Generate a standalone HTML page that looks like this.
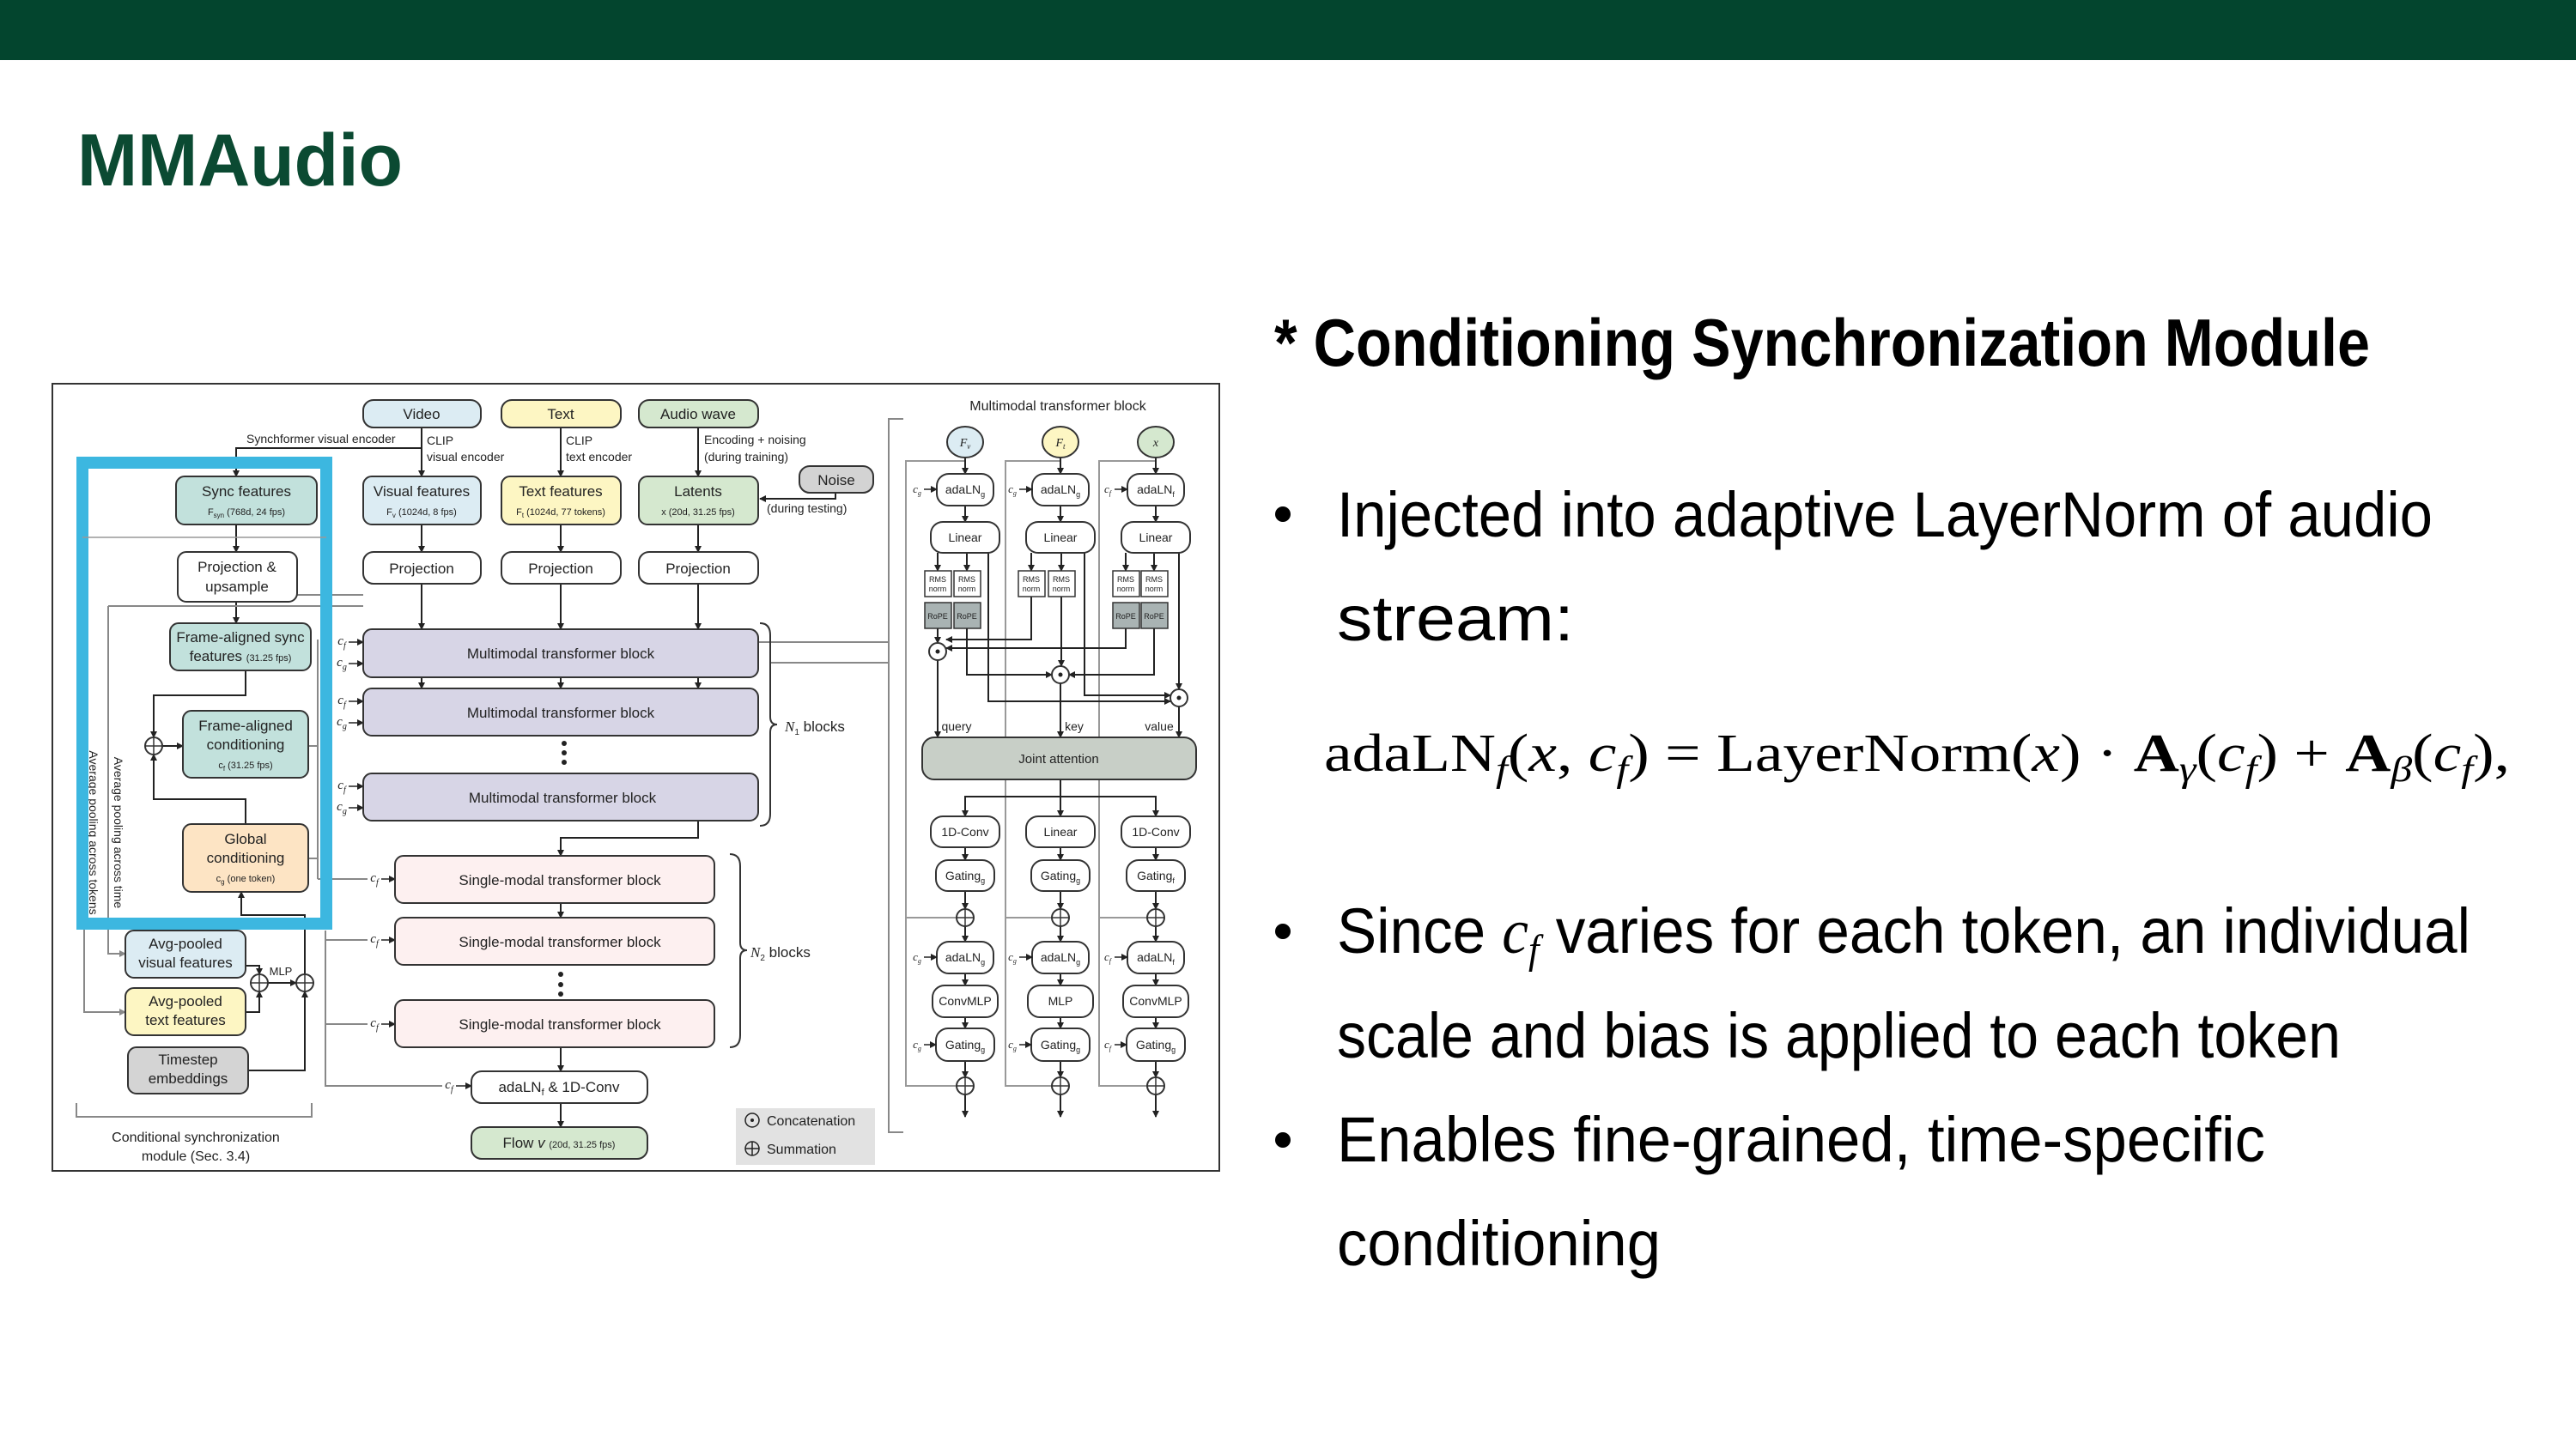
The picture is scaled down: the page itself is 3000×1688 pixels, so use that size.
<!DOCTYPE html>
<html><head><meta charset="utf-8"><style>
html,body{margin:0;padding:0;background:#fff;}
svg{display:block;}
.d{font-family:"Liberation Sans Narrow","Liberation Sans",sans-serif;fill:#222;}
.r{font-family:"Liberation Sans",sans-serif;}
</style></head><body>
<svg width="3000" height="1688" viewBox="0 0 3000 1688" xmlns="http://www.w3.org/2000/svg">
<defs>
<marker id="a" markerWidth="8" markerHeight="8" refX="7" refY="4" orient="auto" markerUnits="userSpaceOnUse"><path d="M0,0 L8,4 L0,8 z" fill="#222"/></marker>
<marker id="ag" markerWidth="8" markerHeight="8" refX="7" refY="4" orient="auto" markerUnits="userSpaceOnUse"><path d="M0,0 L8,4 L0,8 z" fill="#888"/></marker>
</defs>
<rect x="0" y="0" width="3000" height="70" fill="#03452e"/>
<text x="90" y="216" class="r" font-size="86" font-weight="bold" fill="#0b4a32" textLength="379" lengthAdjust="spacingAndGlyphs">MMAudio</text>

<!-- right text -->
<g class="r" fill="#000">
<text x="1484" y="426" font-size="78" font-weight="bold" textLength="1276" lengthAdjust="spacingAndGlyphs">* Conditioning Synchronization Module</text>
<circle cx="1494" cy="599" r="9"/>
<text x="1557" y="625" font-size="74" textLength="1276" lengthAdjust="spacingAndGlyphs">Injected into adaptive LayerNorm of audio</text>
<text x="1557" y="746" font-size="74" textLength="276" lengthAdjust="spacingAndGlyphs">stream:</text>
<text x="1542" y="898" font-size="62" font-family="Liberation Serif,serif" textLength="1381" lengthAdjust="spacingAndGlyphs">adaLN<tspan font-size="42" dy="12" font-style="italic">f</tspan><tspan dy="-12">(</tspan><tspan font-style="italic">x</tspan>, <tspan font-style="italic">c</tspan><tspan font-size="42" dy="12" font-style="italic">f</tspan><tspan dy="-12">) = LayerNorm(</tspan><tspan font-style="italic">x</tspan>) · <tspan font-weight="bold">A</tspan><tspan font-size="42" dy="12" font-style="italic">γ</tspan><tspan dy="-12">(</tspan><tspan font-style="italic">c</tspan><tspan font-size="42" dy="12" font-style="italic">f</tspan><tspan dy="-12">) + </tspan><tspan font-weight="bold">A</tspan><tspan font-size="42" dy="12" font-style="italic">β</tspan><tspan dy="-12">(</tspan><tspan font-style="italic">c</tspan><tspan font-size="42" dy="12" font-style="italic">f</tspan><tspan dy="-12">),</tspan></text>
<circle cx="1494" cy="1085" r="9"/>
<text x="1557" y="1110" font-size="74" textLength="1320" lengthAdjust="spacingAndGlyphs">Since <tspan font-family="Liberation Serif,serif" font-style="italic">c</tspan><tspan font-family="Liberation Serif,serif" font-style="italic" font-size="48" dy="12">f</tspan><tspan dy="-12"> varies for each token, an individual</tspan></text>
<text x="1557" y="1232" font-size="74" textLength="1169" lengthAdjust="spacingAndGlyphs">scale and bias is applied to each token</text>
<circle cx="1494" cy="1328" r="9"/>
<text x="1557" y="1353" font-size="74" textLength="1081" lengthAdjust="spacingAndGlyphs">Enables fine-grained, time-specific</text>
<text x="1557" y="1474" font-size="74" textLength="377" lengthAdjust="spacingAndGlyphs">conditioning</text>
</g>

<!-- diagram -->
<rect x="61" y="447" width="1359" height="917" fill="none" stroke="#333" stroke-width="2"/>
<g class="d" font-size="17" text-anchor="middle" stroke-linecap="butt">
<!-- lines -->
<g stroke="#222" stroke-width="2" fill="none" marker-end="url(#a)">
<path d="M491 498 V555"/><path d="M653 498 V555"/><path d="M813 498 V555"/>
<path d="M491 522 H275 V555"/>
<path d="M973 574 V581 H885"/>
<path d="M491 611 V643"/><path d="M653 611 V643"/><path d="M813 611 V643"/>
<path d="M491 680 V733"/><path d="M653 680 V733"/><path d="M813 680 V733"/>
<path d="M275 611 V643"/><path d="M275 701 V726"/>
<path d="M491 789 V802"/><path d="M653 789 V802"/><path d="M813 789 V802"/>
<path d="M813 956 V976 H653 V997"/>
<path d="M653 1052 V1069"/><path d="M653 1220 V1248"/><path d="M653 1285 V1313"/>
<path d="M286 781 V810 H179 V859"/>
<path d="M286 960 V931 H179 V879"/>
<path d="M189 869 H213"/>
<path d="M286 1125 H302 V1135"/><path d="M286 1179 H302 V1155"/>
<path d="M312 1145 H345"/>
<path d="M289 1247 H355 V1155"/>
<path d="M355 1135 V1066 H281 V1039"/>
</g>
<g stroke="#888" stroke-width="2" fill="none">
<path d="M346 693 H423"/><path d="M126 706 H423"/>
<path d="M126 706 V1111 H146" marker-end="url(#ag)"/>
<path d="M98 1083 V1179 H146" marker-end="url(#ag)"/>
<path d="M370 745 V1024"/><path d="M359 869 H370"/><path d="M359 1000 H370"/>
<path d="M379 1084 V1265 H515"/><path d="M379 1095 H428"/><path d="M379 1193 H428"/><path d="M370 1024 H428"/>
<path d="M883 748 H1035"/><path d="M898 772 H1035"/>
<path d="M1052 488 H1035 V1319 H1052"/>
<path d="M89 1285 V1301 H363 V1285"/>
</g>
<!-- c labels MM -->
<g font-size="15" font-family="Liberation Serif,serif" font-style="italic">
<text x="398" y="751">c<tspan font-size="10" dy="4">f</tspan></text><text x="398" y="776">c<tspan font-size="10" dy="4">g</tspan></text>
<text x="398" y="820">c<tspan font-size="10" dy="4">f</tspan></text><text x="398" y="845">c<tspan font-size="10" dy="4">g</tspan></text>
<text x="398" y="919">c<tspan font-size="10" dy="4">f</tspan></text><text x="398" y="944">c<tspan font-size="10" dy="4">g</tspan></text>
<text x="436" y="1027">c<tspan font-size="10" dy="4">f</tspan></text><text x="436" y="1098">c<tspan font-size="10" dy="4">f</tspan></text><text x="436" y="1196">c<tspan font-size="10" dy="4">f</tspan></text>
<text x="523" y="1268">c<tspan font-size="10" dy="4">f</tspan></text>
</g>
<g stroke="#222" stroke-width="1.5" marker-end="url(#a)">
<path d="M406 748 H423"/><path d="M406 773 H423"/><path d="M406 817 H423"/><path d="M406 842 H423"/><path d="M406 916 H423"/><path d="M406 941 H423"/>
<path d="M444 1024 H460"/><path d="M444 1095 H460"/><path d="M444 1193 H460"/><path d="M531 1265 H549"/>
</g>

<!-- boxes -->
<g stroke="#333" stroke-width="2">
<rect x="423" y="466" width="137" height="32" rx="12" fill="#dcecf3"/>
<rect x="584" y="466" width="139" height="32" rx="12" fill="#fdf6c3"/>
<rect x="744" y="466" width="139" height="32" rx="12" fill="#d5e8cf"/>
<rect x="931" y="543" width="86" height="31" rx="12" fill="#d3d3d3"/>
<rect x="205" y="555" width="164" height="56" rx="10" fill="#c2e1dc"/>
<rect x="423" y="555" width="137" height="56" rx="10" fill="#dcecf3"/>
<rect x="584" y="555" width="139" height="56" rx="10" fill="#fdf6c3"/>
<rect x="744" y="555" width="139" height="56" rx="10" fill="#d5e8cf"/>
<rect x="207" y="643" width="139" height="58" rx="10" fill="#fff"/>
<rect x="423" y="643" width="137" height="37" rx="12" fill="#fff"/>
<rect x="584" y="643" width="139" height="37" rx="12" fill="#fff"/>
<rect x="744" y="643" width="139" height="37" rx="12" fill="#fff"/>
<rect x="198" y="726" width="164" height="55" rx="10" fill="#c2e1dc"/>
<rect x="213" y="828" width="146" height="78" rx="10" fill="#c2e1dc"/>
<rect x="213" y="960" width="146" height="79" rx="10" fill="#fde4c4"/>
<rect x="423" y="733" width="460" height="56" rx="10" fill="#d7d5e6"/>
<rect x="423" y="802" width="460" height="55" rx="10" fill="#d7d5e6"/>
<rect x="423" y="901" width="460" height="55" rx="10" fill="#d7d5e6"/>
<rect x="460" y="997" width="372" height="55" rx="10" fill="#fdf0f0"/>
<rect x="460" y="1069" width="372" height="55" rx="10" fill="#fdf0f0"/>
<rect x="460" y="1165" width="372" height="55" rx="10" fill="#fdf0f0"/>
<rect x="549" y="1248" width="205" height="37" rx="12" fill="#fff"/>
<rect x="549" y="1313" width="205" height="37" rx="12" fill="#d5e8cf"/>
<rect x="146" y="1084" width="140" height="55" rx="10" fill="#dcecf3"/>
<rect x="146" y="1151" width="140" height="55" rx="10" fill="#fdf6c3"/>
<rect x="149" y="1220" width="140" height="54" rx="10" fill="#d4d4d4"/>
<circle cx="179" cy="869" r="10" fill="#fff"/><circle cx="302" cy="1145" r="10" fill="#fff"/><circle cx="355" cy="1145" r="10" fill="#fff"/>
</g>
<g stroke="#333" stroke-width="1.5"><path d="M169 869 H189 M179 859 V879 M292 1145 H312 M302 1135 V1155 M345 1145 H365 M355 1135 V1155"/></g>
<!-- box text -->
<text x="491" y="488">Video</text><text x="653" y="488">Text</text><text x="813" y="488">Audio wave</text><text x="974" y="565">Noise</text>
<text x="287" y="578">Sync features</text><text x="287" y="600" font-size="11">F<tspan font-size="8" dy="3">syn</tspan><tspan dy="-3"> (768d, 24 fps)</tspan></text>
<text x="491" y="578">Visual features</text><text x="491" y="600" font-size="11">F<tspan font-size="8" dy="3">v</tspan><tspan dy="-3"> (1024d, 8 fps)</tspan></text>
<text x="653" y="578">Text features</text><text x="653" y="600" font-size="11">F<tspan font-size="8" dy="3">t</tspan><tspan dy="-3"> (1024d, 77 tokens)</tspan></text>
<text x="813" y="578">Latents</text><text x="813" y="600" font-size="11">x (20d, 31.25 fps)</text>
<text x="276" y="666">Projection &amp;</text><text x="276" y="689">upsample</text>
<text x="491" y="668">Projection</text><text x="653" y="668">Projection</text><text x="813" y="668">Projection</text>
<text x="280" y="748">Frame-aligned sync</text><text x="280" y="770">features <tspan font-size="11">(31.25 fps)</tspan></text>
<text x="286" y="851">Frame-aligned</text><text x="286" y="873">conditioning</text><text x="286" y="895" font-size="11">c<tspan font-size="8" dy="3">f</tspan><tspan dy="-3"> (31.25 fps)</tspan></text>
<text x="286" y="983">Global</text><text x="286" y="1005">conditioning</text><text x="286" y="1027" font-size="11">c<tspan font-size="8" dy="3">g</tspan><tspan dy="-3"> (one token)</tspan></text>
<text x="653" y="767">Multimodal transformer block</text><text x="653" y="836">Multimodal transformer block</text><text x="655" y="935">Multimodal transformer block</text>
<text x="652" y="1031">Single-modal transformer block</text><text x="652" y="1103">Single-modal transformer block</text><text x="652" y="1199">Single-modal transformer block</text>
<text x="651" y="1272">adaLN<tspan font-size="11" dy="4">f</tspan><tspan dy="-4"> &amp; 1D-Conv</tspan></text>
<text x="651" y="1337">Flow <tspan font-style="italic">v</tspan> <tspan font-size="11">(20d, 31.25 fps)</tspan></text>
<text x="216" y="1105">Avg-pooled</text><text x="216" y="1127">visual features</text>
<text x="216" y="1172">Avg-pooled</text><text x="216" y="1194">text features</text>
<text x="219" y="1240">Timestep</text><text x="219" y="1262">embeddings</text>
<g fill="#222"><circle cx="657" cy="866" r="3"/><circle cx="657" cy="877" r="3"/><circle cx="657" cy="888" r="3"/><circle cx="653" cy="1135" r="3"/><circle cx="653" cy="1147" r="3"/><circle cx="653" cy="1158" r="3"/></g>
<text x="327" y="1136" font-size="13">MLP</text>
<g font-size="14" text-anchor="start">
<text x="287" y="516">Synchformer visual encoder</text>
<text x="497" y="518">CLIP</text><text x="497" y="537">visual encoder</text>
<text x="659" y="518">CLIP</text><text x="659" y="537">text encoder</text>
<text x="820" y="517">Encoding + noising</text><text x="820" y="537">(during training)</text>
<text x="893" y="597">(during testing)</text>
<text x="914" y="852" font-size="17"><tspan font-family="Liberation Serif,serif" font-style="italic">N</tspan><tspan font-size="10" dy="4">1</tspan><tspan dy="-4"> blocks</tspan></text>
<text x="874" y="1115" font-size="17"><tspan font-family="Liberation Serif,serif" font-style="italic">N</tspan><tspan font-size="10" dy="4">2</tspan><tspan dy="-4"> blocks</tspan></text>
</g>
<g fill="none" stroke="#333" stroke-width="2">
<path d="M885 726 Q897 726 897 740 V835 Q897 844 905 844 Q897 844 897 853 V948 Q897 962 885 962"/>
<path d="M850 995 Q862 995 862 1009 V1098 Q862 1107 870 1107 Q862 1107 862 1116 V1206 Q862 1220 850 1220"/>
</g>
<text x="228" y="1330" font-size="16">Conditional synchronization</text><text x="228" y="1352" font-size="16">module (Sec. 3.4)</text>
<text transform="translate(133,970) rotate(90)" font-size="14">Average pooling across time</text>
<text transform="translate(104,970) rotate(90)" font-size="14">Average pooling across tokens</text>
<!-- legend -->
<rect x="857" y="1291" width="162" height="66" fill="#e2e2e2"/>
<circle cx="876" cy="1305" r="8" fill="none" stroke="#222" stroke-width="1.5"/><circle cx="876" cy="1305" r="2" fill="#222"/>
<circle cx="876" cy="1338" r="8" fill="none" stroke="#222" stroke-width="1.5"/><path d="M868 1338 H884 M876 1330 V1346" stroke="#222" stroke-width="1.5"/>
<text x="893" y="1311" font-size="16" text-anchor="start">Concatenation</text><text x="893" y="1344" font-size="16" text-anchor="start">Summation</text>

<!-- right panel -->
<text x="1232" y="478" font-size="16">Multimodal transformer block</text>
<g stroke="#999" stroke-width="2" fill="none">
<path d="M1124 537 H1055 V1265 H1114 M1055 1069 H1114"/>
<path d="M1235 537 H1171 V1265 H1225 M1171 1069 H1225"/>
<path d="M1346 537 H1280 V1265 H1336 M1280 1069 H1336"/>
</g>
<g stroke="#222" stroke-width="2" fill="none" marker-end="url(#a)">
<path d="M1124 533 V552"/><path d="M1235 533 V552"/><path d="M1346 533 V552"/>
<path d="M1124 589 V608"/><path d="M1235 589 V608"/><path d="M1346 589 V608"/>
<path d="M1092 644 V665"/><path d="M1126 644 V665"/><path d="M1201 644 V665"/><path d="M1236 644 V665"/><path d="M1311 644 V665"/><path d="M1344 644 V665"/>
<path d="M1092 732 V749"/>
<path d="M1201 695 V745 H1102"/>
<path d="M1311 732 V755 H1102"/>
<path d="M1126 732 V786 H1225"/>
<path d="M1236 695 V776"/>
<path d="M1344 732 V786 H1245"/>
<path d="M1151 644 V817 H1363"/>
<path d="M1263 644 V810 H1363"/>
<path d="M1373 644 V803"/>
<path d="M1092 769 V859"/><path d="M1235 796 V859"/><path d="M1373 823 V859"/>
<path d="M1235 908 V928 H1124 V951"/><path d="M1235 928 V951"/><path d="M1235 928 H1346 V951"/>
<path d="M1124 987 V1002"/><path d="M1235 987 V1002"/><path d="M1346 987 V1002"/>
<path d="M1124 1038 V1059"/><path d="M1235 1038 V1059"/><path d="M1346 1038 V1059"/>
<path d="M1124 1079 V1097"/><path d="M1235 1079 V1097"/><path d="M1346 1079 V1097"/>
<path d="M1124 1134 V1148"/><path d="M1235 1134 V1148"/><path d="M1346 1134 V1148"/>
<path d="M1124 1185 V1198"/><path d="M1235 1185 V1198"/><path d="M1346 1185 V1198"/>
<path d="M1124 1236 V1255"/><path d="M1235 1236 V1255"/><path d="M1346 1236 V1255"/>
<path d="M1124 1275 V1301"/><path d="M1235 1275 V1301"/><path d="M1346 1275 V1301"/>
</g>
<g stroke="#333" stroke-width="2">
<ellipse cx="1124" cy="515" rx="21" ry="18" fill="#dcecf3"/><ellipse cx="1235" cy="515" rx="21" ry="18" fill="#fdf6c3"/><ellipse cx="1346" cy="515" rx="21" ry="18" fill="#d5e8cf"/>
<rect x="1091" y="552" width="66" height="37" rx="14" fill="#fff"/><rect x="1202" y="552" width="66" height="37" rx="14" fill="#fff"/><rect x="1313" y="552" width="66" height="37" rx="14" fill="#fff"/>
<rect x="1084" y="608" width="80" height="36" rx="14" fill="#fff"/><rect x="1195" y="608" width="80" height="36" rx="14" fill="#fff"/><rect x="1306" y="608" width="80" height="36" rx="14" fill="#fff"/>
<g stroke-width="1.5" fill="#fff">
<rect x="1077" y="665" width="31" height="30"/><rect x="1111" y="665" width="31" height="30"/><rect x="1186" y="665" width="31" height="30"/><rect x="1221" y="665" width="31" height="30"/><rect x="1296" y="665" width="31" height="30"/><rect x="1329" y="665" width="31" height="30"/>
</g>
<g stroke-width="1.5" fill="#a9b3b3">
<rect x="1077" y="702" width="31" height="30"/><rect x="1111" y="702" width="31" height="30"/><rect x="1296" y="702" width="31" height="30"/><rect x="1329" y="702" width="31" height="30"/>
</g>
<circle cx="1092" cy="759" r="10" fill="#fff"/><circle cx="1235" cy="786" r="10" fill="#fff"/><circle cx="1373" cy="813" r="10" fill="#fff"/>
<rect x="1074" y="859" width="319" height="49" rx="14" fill="#c8cfc7"/>
<rect x="1084" y="951" width="80" height="36" rx="14" fill="#fff"/><rect x="1195" y="951" width="80" height="36" rx="14" fill="#fff"/><rect x="1306" y="951" width="80" height="36" rx="14" fill="#fff"/>
<rect x="1090" y="1002" width="68" height="36" rx="14" fill="#fff"/><rect x="1201" y="1002" width="68" height="36" rx="14" fill="#fff"/><rect x="1312" y="1002" width="68" height="36" rx="14" fill="#fff"/>
<rect x="1091" y="1097" width="66" height="37" rx="14" fill="#fff"/><rect x="1202" y="1097" width="66" height="37" rx="14" fill="#fff"/><rect x="1313" y="1097" width="66" height="37" rx="14" fill="#fff"/>
<rect x="1086" y="1148" width="76" height="37" rx="14" fill="#fff"/><rect x="1197" y="1148" width="76" height="37" rx="14" fill="#fff"/><rect x="1308" y="1148" width="76" height="37" rx="14" fill="#fff"/>
<rect x="1090" y="1198" width="68" height="38" rx="14" fill="#fff"/><rect x="1201" y="1198" width="68" height="38" rx="14" fill="#fff"/><rect x="1312" y="1198" width="68" height="38" rx="14" fill="#fff"/>
<circle cx="1124" cy="1069" r="10" fill="#fff"/><circle cx="1235" cy="1069" r="10" fill="#fff"/><circle cx="1346" cy="1069" r="10" fill="#fff"/>
<circle cx="1124" cy="1265" r="10" fill="#fff"/><circle cx="1235" cy="1265" r="10" fill="#fff"/><circle cx="1346" cy="1265" r="10" fill="#fff"/>
</g>
<g fill="#222"><circle cx="1092" cy="759" r="2.5"/><circle cx="1235" cy="786" r="2.5"/><circle cx="1373" cy="813" r="2.5"/></g>
<path d="M1114 1069 H1134 M1124 1059 V1079 M1225 1069 H1245 M1235 1059 V1079 M1336 1069 H1356 M1346 1059 V1079 M1114 1265 H1134 M1124 1255 V1275 M1225 1265 H1245 M1235 1255 V1275 M1336 1265 H1356 M1346 1255 V1275" stroke="#333" stroke-width="1.5"/>
<g font-size="14">
<text x="1124" y="520" font-family="Liberation Serif,serif" font-style="italic">F<tspan font-size="9" dy="3">v</tspan></text>
<text x="1235" y="520" font-family="Liberation Serif,serif" font-style="italic">F<tspan font-size="9" dy="3">t</tspan></text>
<text x="1346" y="520" font-family="Liberation Serif,serif" font-style="italic">x</text>
<text x="1124" y="575">adaLN<tspan font-size="9" dy="4">g</tspan></text><text x="1235" y="575">adaLN<tspan font-size="9" dy="4">g</tspan></text><text x="1346" y="575">adaLN<tspan font-size="9" dy="4">f</tspan></text>
<text x="1124" y="631">Linear</text><text x="1235" y="631">Linear</text><text x="1346" y="631">Linear</text>
<text x="1233" y="889" font-size="15">Joint attention</text>
<text x="1124" y="974">1D-Conv</text><text x="1235" y="974">Linear</text><text x="1346" y="974">1D-Conv</text>
<text x="1124" y="1025">Gating<tspan font-size="9" dy="4">g</tspan></text><text x="1235" y="1025">Gating<tspan font-size="9" dy="4">g</tspan></text><text x="1346" y="1025">Gating<tspan font-size="9" dy="4">f</tspan></text>
<text x="1124" y="1120">adaLN<tspan font-size="9" dy="4">g</tspan></text><text x="1235" y="1120">adaLN<tspan font-size="9" dy="4">g</tspan></text><text x="1346" y="1120">adaLN<tspan font-size="9" dy="4">f</tspan></text>
<text x="1124" y="1171">ConvMLP</text><text x="1235" y="1171">MLP</text><text x="1346" y="1171">ConvMLP</text>
<text x="1124" y="1222">Gating<tspan font-size="9" dy="4">g</tspan></text><text x="1235" y="1222">Gating<tspan font-size="9" dy="4">g</tspan></text><text x="1346" y="1222">Gating<tspan font-size="9" dy="4">g</tspan></text>
<text x="1114" y="851">query</text><text x="1251" y="851">key</text><text x="1350" y="851">value</text>
</g>
<g font-size="9">
<text x="1092" y="678">RMS</text><text x="1092" y="689">norm</text><text x="1126" y="678">RMS</text><text x="1126" y="689">norm</text>
<text x="1201" y="678">RMS</text><text x="1201" y="689">norm</text><text x="1236" y="678">RMS</text><text x="1236" y="689">norm</text>
<text x="1311" y="678">RMS</text><text x="1311" y="689">norm</text><text x="1344" y="678">RMS</text><text x="1344" y="689">norm</text>
<text x="1092" y="721">RoPE</text><text x="1126" y="721">RoPE</text><text x="1311" y="721">RoPE</text><text x="1344" y="721">RoPE</text>
</g>
<g font-size="13" font-family="Liberation Serif,serif" font-style="italic">
<text x="1068" y="574">c<tspan font-size="8" dy="3">g</tspan></text><text x="1179" y="574">c<tspan font-size="8" dy="3">g</tspan></text><text x="1290" y="574">c<tspan font-size="8" dy="3">f</tspan></text>
<text x="1068" y="1119">c<tspan font-size="8" dy="3">g</tspan></text><text x="1179" y="1119">c<tspan font-size="8" dy="3">g</tspan></text><text x="1290" y="1119">c<tspan font-size="8" dy="3">f</tspan></text>
<text x="1068" y="1221">c<tspan font-size="8" dy="3">g</tspan></text><text x="1179" y="1221">c<tspan font-size="8" dy="3">g</tspan></text><text x="1290" y="1221">c<tspan font-size="8" dy="3">f</tspan></text>
</g>
<g stroke="#222" stroke-width="1.5" marker-end="url(#a)">
<path d="M1076 570 H1091"/><path d="M1187 570 H1202"/><path d="M1298 570 H1313"/>
<path d="M1076 1115 H1091"/><path d="M1187 1115 H1202"/><path d="M1298 1115 H1313"/>
<path d="M1076 1217 H1090"/><path d="M1187 1217 H1201"/><path d="M1298 1217 H1312"/>
</g>
</g>
<!-- cyan highlight -->
<rect x="96" y="539" width="284" height="537" fill="none" stroke="#3cb7e0" stroke-width="14"/>
<path d="M96 626 H380" stroke="#999" stroke-width="1.5"/>
</svg>
</body></html>
